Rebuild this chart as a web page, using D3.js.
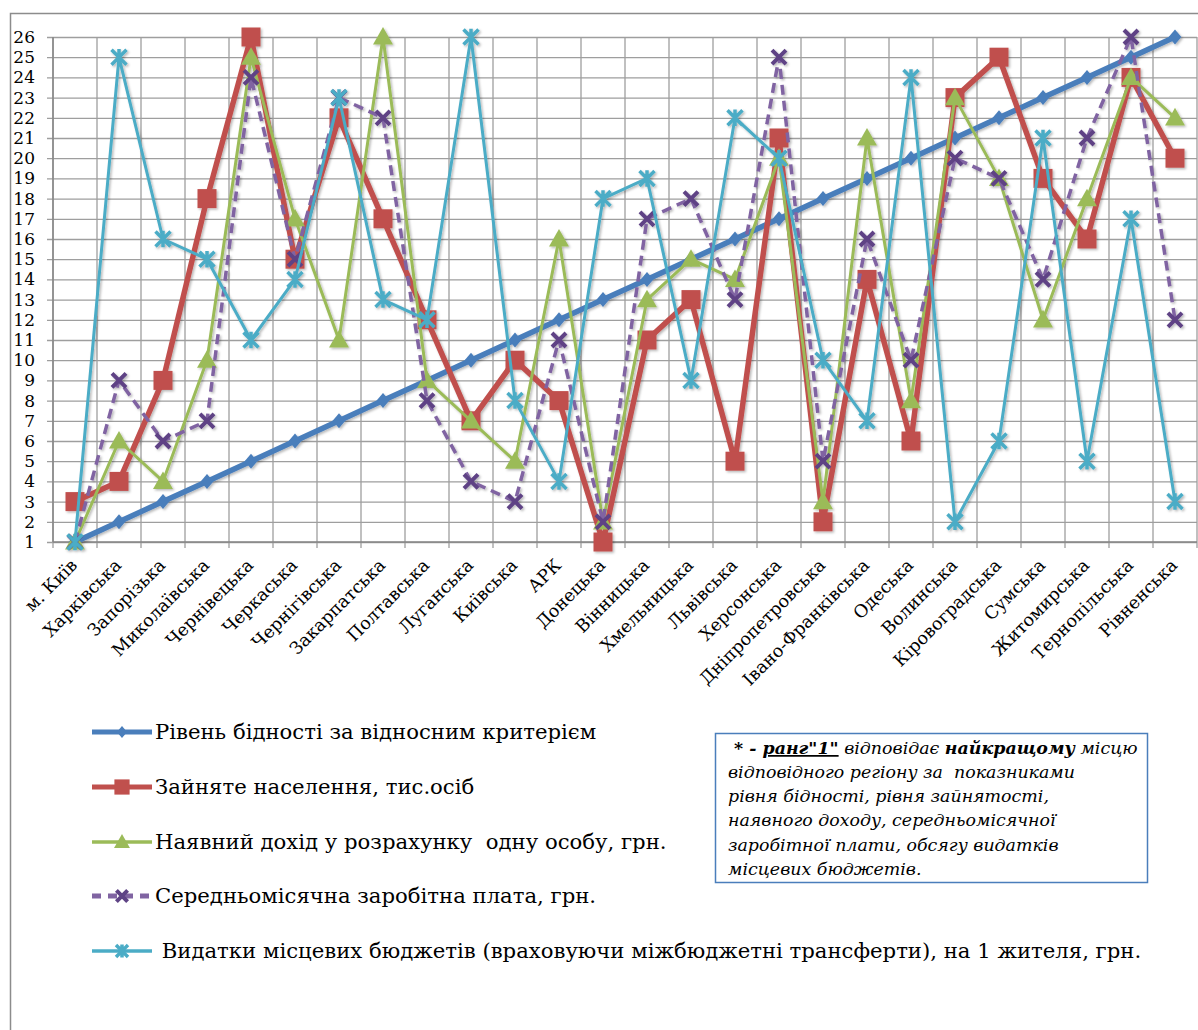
<!DOCTYPE html>
<html>
<head>
<meta charset="utf-8">
<script src="https://cdn.jsdelivr.net/npm/d3@7"></script>
<style>
  html, body { margin: 0; padding: 0; background: #fff; }
  svg { display: block; }
</style>
</head>
<body>
<svg id="chart" width="1198" height="1030" font-family="DejaVu Serif"></svg>
<script>
// Regions (ranked order along the poverty criterion)
const regions = ["м. Київ", "Харківська", "Запорізька", "Миколаївська", "Чернівецька", "Черкаська",
  "Чернігівська", "Закарпатська", "Полтавська", "Луганська", "Київська", "АРК", "Донецька",
  "Вінницька", "Хмельницька", "Львівська", "Херсонська", "Дніпропетровська", "Івано-Франківська",
  "Одеська", "Волинська", "Кіровоградська", "Сумська", "Житомирська", "Тернопільська", "Рівненська"];

// Rank of each region by indicator
const povertyRank  = [1, 2, 3, 4, 5, 6, 7, 8, 9, 10, 11, 12, 13, 14, 15, 16, 17, 18, 19, 20, 21, 22, 23, 24, 25, 26];
const employedRank = [3, 4, 9, 18, 26, 15, 22, 17, 12, 7, 10, 8, 1, 11, 13, 5, 21, 2, 14, 6, 23, 25, 19, 16, 24, 20];
const incomeRank   = [1, 6, 4, 10, 25, 17, 11, 26, 9, 7, 5, 16, 2, 13, 15, 14, 20, 3, 21, 8, 23, 19, 12, 18, 24, 22];
const wageRank     = [1, 9, 6, 7, 24, 15, 23, 22, 8, 4, 3, 11, 2, 17, 18, 13, 25, 5, 16, 10, 20, 19, 14, 21, 26, 12];
const budgetRank   = [1, 25, 16, 15, 11, 14, 23, 13, 12, 26, 8, 4, 18, 19, 9, 22, 20, 10, 7, 24, 2, 6, 21, 5, 17, 3];

const seriesNames = [
  "Рівень бідності за відносним критерієм",
  "Зайняте населення, тис.осіб",
  "Наявний дохід у розрахунку  одну особу, грн.",
  "Середньомісячна заробітна плата, грн.",
  " Видатки місцевих бюджетів (враховуючи міжбюджетні трансферти), на 1 жителя, грн."
];

const yTicks = d3.range(1, 27);

const noteLines = [
  [{t: " * - ", b: true}, {t: "ранг\"1\"", b: true, u: true}, {t: " відповідає "}, {t: "найкращому", b: true}, {t: " місцю"}],
  [{t: "відповідного регіону за  показниками"}],
  [{t: "рівня бідності, рівня зайнятості,"}],
  [{t: "наявного доходу, середньомісячної"}],
  [{t: "заробітної плати, обсягу видатків"}],
  [{t: "місцевих бюджетів."}]
];

const FONT = "DejaVu Serif";

// ---- styling of each series ----
const styles = [
  {values: povertyRank,  color: "#4a7ebb", width: 5.5, dash: null,   marker: "diamond",  mfill: "#4a7ebb"},
  {values: employedRank, color: "#c0504d", width: 5.5, dash: null,   marker: "square",   mfill: "#c0504d"},
  {values: incomeRank,   color: "#9bbb59", width: 3,   dash: null,   marker: "triangle", mfill: "#9bbb59"},
  {values: wageRank,     color: "#8064a2", width: 3.5, dash: "10,6", marker: "cross",    mfill: "#5e4385"},
  {values: budgetRank,   color: "#4bacc6", width: 3,   dash: null,   marker: "star",     mfill: "#4bacc6"}
];

const svg = d3.select("#chart");

const defs = svg.append("defs");
const shadow = defs.append("filter").attr("id", "shadow")
  .attr("x", "-20%").attr("y", "-20%").attr("width", "140%").attr("height", "140%");
shadow.append("feDropShadow").attr("dx", 1.5).attr("dy", 1.5).attr("stdDeviation", 1.2)
  .attr("flood-color", "#000").attr("flood-opacity", 0.28);

// outer chart frame
svg.append("path")
  .attr("d", "M10.5,1030 L10.5,13.5 L1198,13.5")
  .attr("fill", "none").attr("stroke", "#8c8c8c").attr("stroke-width", 1.5);

const plot = {left: 53, right: 1197, top: 37, bottom: 542};

const x = d3.scaleBand().domain(regions).range([plot.left, plot.right]).padding(0);
const cx = d => x(d) + x.bandwidth() / 2;
const y = d3.scaleLinear().domain([1, 26]).range([plot.bottom, plot.top]);

// horizontal gridlines + y labels
const yAxis = d3.axisLeft(y).tickValues(yTicks).tickFormat(d3.format("d"))
  .tickSize(-(plot.right - plot.left)).tickPadding(18);
const gy = svg.append("g").attr("transform", `translate(${plot.left},0)`).call(yAxis);
gy.attr("font-family", FONT);
gy.select(".domain").remove();
gy.selectAll(".tick line").attr("stroke", "#9e9e9e").attr("stroke-width", 1.3).attr("x1", -6);
gy.selectAll(".tick text").attr("font-size", 17).attr("fill", "#000");

// vertical gridlines at category boundaries
const bounds = d3.range(regions.length + 1).map(i => plot.left + i * x.bandwidth());
svg.append("g").selectAll("line").data(bounds).join("line")
  .attr("x1", d => d).attr("x2", d => d)
  .attr("y1", plot.top).attr("y2", plot.bottom + 6)
  .attr("stroke", "#9e9e9e").attr("stroke-width", 1.3);

// axis lines
svg.append("line").attr("x1", plot.left).attr("x2", plot.left)
  .attr("y1", plot.top).attr("y2", plot.bottom).attr("stroke", "#868686").attr("stroke-width", 1.5);
svg.append("line").attr("x1", plot.left).attr("x2", plot.right)
  .attr("y1", plot.bottom).attr("y2", plot.bottom).attr("stroke", "#868686").attr("stroke-width", 1.5);

// rotated category labels
const xAxis = d3.axisBottom(x).tickSize(0).tickPadding(0);
const gx = svg.append("g").attr("transform", `translate(0,${plot.bottom})`).call(xAxis);
gx.attr("font-family", FONT);
gx.select(".domain").remove();
gx.selectAll(".tick text")
  .attr("font-size", 17.5).attr("fill", "#000")
  .attr("text-anchor", "end")
  .attr("transform", "translate(-1,20) rotate(-45)")
  .attr("dy", "0.35em").attr("y", 0).attr("x", 0);

// marker shapes
function drawMarker(g, type, fill, size) {
  const s = size;
  if (type === "diamond") {
    g.append("path").attr("d", `M0,${-s}L${s * 0.85},0L0,${s}L${-s * 0.85},0Z`).attr("fill", fill);
  } else if (type === "square") {
    g.append("rect").attr("x", -s).attr("y", -s).attr("width", 2 * s).attr("height", 2 * s).attr("fill", fill);
  } else if (type === "triangle") {
    g.append("path").attr("d", `M0,${-s * 1.05}L${s * 1.05},${s * 0.8}L${-s * 1.05},${s * 0.8}Z`).attr("fill", fill);
  } else if (type === "cross") {
    g.append("path").attr("d", `M${-s},${-s}L${s},${s}M${s},${-s}L${-s},${s}`)
      .attr("stroke", fill).attr("stroke-width", 4).attr("fill", "none");
  } else if (type === "star") {
    g.append("path").attr("d", `M${-s},${-s}L${s},${s}M${s},${-s}L${-s},${s}M0,${-s * 1.1}L0,${s * 1.1}`)
      .attr("stroke", fill).attr("stroke-width", 3.5).attr("fill", "none");
  }
}
const markerSize = {diamond: 7.5, square: 9.5, triangle: 9.5, cross: 7, star: 7.5};

const line = d3.line().x((d, i) => cx(regions[i])).y(d => y(d)).curve(d3.curveLinear);

const seriesLayer = svg.append("g").attr("filter", "url(#shadow)");
styles.forEach(s => {
  const g = seriesLayer.append("g");
  g.append("path").datum(s.values).attr("d", line)
    .attr("fill", "none").attr("stroke", s.color).attr("stroke-width", s.width)
    .attr("stroke-linejoin", "round").attr("stroke-linecap", s.dash ? "butt" : "round")
    .attr("stroke-dasharray", s.dash);
  s.values.forEach((v, i) => {
    const m = g.append("g").attr("transform", `translate(${cx(regions[i])},${y(v)})`);
    drawMarker(m, s.marker, s.mfill, markerSize[s.marker]);
  });
});

// legend
const legendRows = [732, 787, 842, 896, 951];
const legend = svg.append("g").attr("font-family", FONT);
styles.forEach((s, i) => {
  const row = legend.append("g").attr("transform", `translate(0,${legendRows[i]})`);
  row.append("line").attr("x1", 92).attr("x2", 152).attr("y1", 0).attr("y2", 0)
    .attr("stroke", s.color).attr("stroke-width", s.width === 3 ? 3.5 : 5)
    .attr("stroke-dasharray", s.dash ? "9,7" : null);
  const m = row.append("g").attr("transform", "translate(122,0)");
  drawMarker(m, s.marker, s.mfill, markerSize[s.marker] * 0.8);
  row.append("text").attr("x", 155).attr("y", 0).attr("dy", "0.35em")
    .attr("font-size", 21.2).attr("fill", "#000")
    .style("white-space", "pre")
    .text(seriesNames[i]);
});

// note box
svg.append("rect").attr("x", 715.5).attr("y", 733.5).attr("width", 432).attr("height", 149)
  .attr("fill", "#fff").attr("stroke", "#4a7ebb").attr("stroke-width", 1.5);
const noteBase = [754, 778, 802, 826, 851, 875];
const note = svg.append("g").attr("font-family", FONT);
noteLines.forEach((parts, i) => {
  const t = note.append("text").attr("x", 728).attr("y", noteBase[i])
    .attr("font-size", 17.4).attr("font-style", "italic").attr("fill", "#000")
    .style("white-space", "pre");
  parts.forEach(p => {
    t.append("tspan").text(p.t)
      .attr("font-weight", p.b ? "bold" : "normal")
      .attr("text-decoration", p.u ? "underline" : null);
  });
});
</script>
</body>
</html>
